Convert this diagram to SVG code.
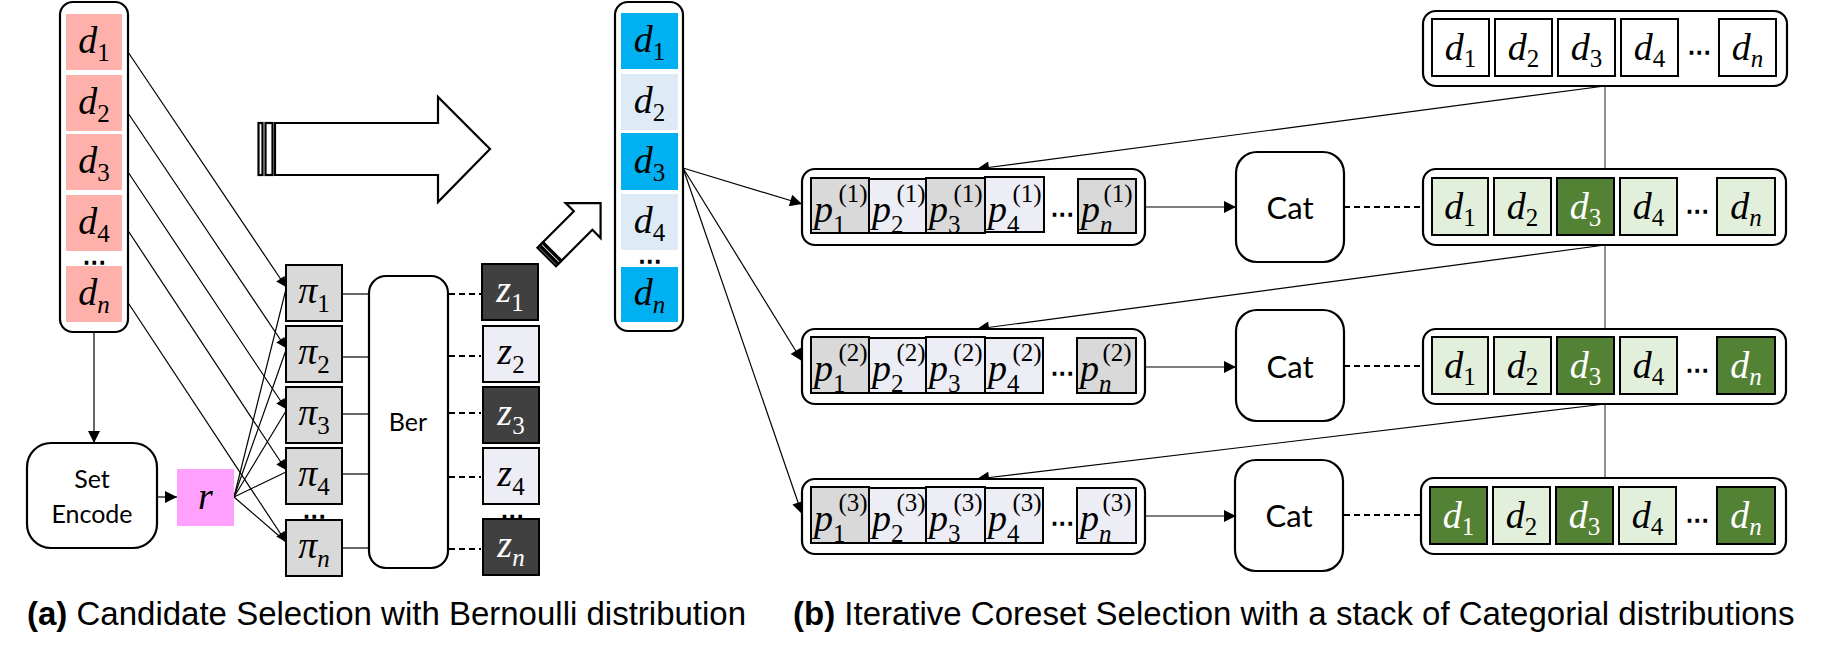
<svg xmlns="http://www.w3.org/2000/svg" width="1824" height="654" viewBox="0 0 1824 654">
<defs>
<style>
.col{fill:#fff;stroke:#000;stroke-width:2.2}
.bx{stroke:#000;stroke-width:2}
.sal{fill:#FDB1AA}
.blu{fill:#00B0F0}
.lbl{fill:#DEEBF7}
.gry{fill:#D9D9D9}
.lgt{fill:#EDEEF5}
.drk{fill:#404040}
.wht{fill:#fff}
.lgr{fill:#E2EFDA}
.dgr{fill:#548235}
.m{font-family:"Liberation Serif","DejaVu Serif",serif;font-style:italic;font-size:38px;fill:#000}
.mw{fill:#fff}
.s{font-style:normal;font-size:25px}
.si{font-style:italic;font-size:25px}
.t{font-family:Lato,"Open Sans","Liberation Sans",sans-serif;fill:#000}
.dots{font-family:"Liberation Sans",Arial,sans-serif;font-weight:bold;font-size:16px;letter-spacing:3.4px;fill:#000;stroke:#000;stroke-width:1.3}
.cap{font-family:"Liberation Sans",Arial,sans-serif;font-size:33px;fill:#000}
.ln{stroke:#000;stroke-width:1.2;fill:none}
.dash{stroke:#000;stroke-width:2;stroke-dasharray:6 4;fill:none}
.big{fill:#fff;stroke:#000;stroke-width:2.2;stroke-linejoin:miter}
</style>
<marker id="ah" viewBox="0 0 10 10" refX="10" refY="5" markerWidth="11" markerHeight="10" markerUnits="userSpaceOnUse" orient="auto"><path d="M0,0 L10,5 L0,10 z" fill="#000"/></marker>
<marker id="ah2" viewBox="0 0 10 10" refX="10" refY="5" markerWidth="13" markerHeight="12" markerUnits="userSpaceOnUse" orient="auto"><path d="M0,0 L10,5 L0,10 z" fill="#000"/></marker>
</defs>

<!-- connectors -->
<g id="connectors">
  <line class="ln" x1="128" y1="52" x2="286" y2="287" marker-end="url(#ah)"/>
  <line class="ln" x1="128" y1="113" x2="286" y2="348" marker-end="url(#ah)"/>
  <line class="ln" x1="128" y1="172" x2="286" y2="409" marker-end="url(#ah)"/>
  <line class="ln" x1="123" y1="223" x2="286" y2="470" marker-end="url(#ah)"/>
  <line class="ln" x1="123" y1="295" x2="286" y2="542" marker-end="url(#ah)"/>
  <line class="ln" x1="234" y1="497" x2="286" y2="289"/>
  <line class="ln" x1="234" y1="497" x2="286" y2="350"/>
  <line class="ln" x1="234" y1="497" x2="286" y2="411"/>
  <line class="ln" x1="234" y1="497" x2="286" y2="472"/>
  <line class="ln" x1="234" y1="497" x2="286" y2="542"/>
  <line class="ln" x1="94" y1="332" x2="94" y2="443" marker-end="url(#ah2)"/>
  <line class="ln" x1="157" y1="497" x2="177" y2="497" marker-end="url(#ah2)"/>
  <line class="ln" x1="342" y1="294" x2="369" y2="294"/>
  <line class="ln" x1="342" y1="357" x2="369" y2="357"/>
  <line class="ln" x1="342" y1="414" x2="369" y2="414"/>
  <line class="ln" x1="342" y1="474" x2="369" y2="474"/>
  <line class="ln" x1="342" y1="548" x2="369" y2="548"/>
  <line class="dash" x1="449" y1="294" x2="481" y2="294"/>
  <line class="dash" x1="449" y1="356" x2="481" y2="356"/>
  <line class="dash" x1="449" y1="413" x2="481" y2="413"/>
  <line class="dash" x1="449" y1="477" x2="481" y2="477"/>
  <line class="dash" x1="449" y1="549" x2="481" y2="549"/>
  <line class="ln" x1="683" y1="168" x2="802" y2="204" marker-end="url(#ah2)"/>
  <line class="ln" x1="683" y1="168" x2="802" y2="361" marker-end="url(#ah2)"/>
  <line class="ln" x1="683" y1="168" x2="802" y2="514" marker-end="url(#ah2)"/>
  <line x1="1605" y1="86" x2="1605" y2="478" stroke="#444" stroke-width="1.2"/>
  <line class="ln" x1="1605" y1="86" x2="977" y2="169" marker-end="url(#ah2)"/>
  <line class="ln" x1="1605" y1="245" x2="977" y2="329" marker-end="url(#ah2)"/>
  <line class="ln" x1="1605" y1="404" x2="977" y2="479" marker-end="url(#ah2)"/>
  <line class="ln" x1="1145" y1="207" x2="1236" y2="207" marker-end="url(#ah2)"/>
  <line class="ln" x1="1145" y1="367" x2="1236" y2="367" marker-end="url(#ah2)"/>
  <line class="ln" x1="1145" y1="516" x2="1236" y2="516" marker-end="url(#ah2)"/>
  <line class="dash" x1="1344" y1="207" x2="1423" y2="207"/>
  <line class="dash" x1="1344" y1="366" x2="1423" y2="366"/>
  <line class="dash" x1="1344" y1="515" x2="1423" y2="515"/>
</g>

<!-- big hollow arrows -->
<g id="big-arrow">
  <rect class="big" x="258.5" y="123" width="4" height="52" stroke-width="1.6"/>
  <rect class="big" x="265.5" y="123" width="7" height="52" stroke-width="1.6"/>
  <polygon class="big" points="275,123 438,123 438,97 490,149 438,202 438,175 275,175"/>
</g>
<g id="small-arrow" transform="translate(546.7,257) rotate(-45)">
  <rect class="big" x="0" y="-13.1" width="2.5" height="26.2" stroke-width="1.6"/>
  <rect class="big" x="3.8" y="-13.1" width="3" height="26.2" stroke-width="1.6"/>
  <polygon class="big" points="8,-13.1 51.5,-13.1 51.5,-24.7 76.2,0 51.5,24.7 51.5,13.1 8,13.1"/>
</g>

<!-- left column -->
<g id="input-set">
  <rect class="col" x="60" y="2" width="68" height="330" rx="13"/>
  <rect class="sal" x="66" y="14" width="56" height="56"/>
  <rect class="sal" x="66" y="75" width="56" height="56"/>
  <rect class="sal" x="66" y="134" width="56" height="56"/>
  <rect class="sal" x="66" y="195" width="56" height="56"/>
  <rect class="sal" x="66" y="266" width="56" height="56"/>
  <text class="m" x="94" y="53" text-anchor="middle">d<tspan class="s" dy="8">1</tspan></text>
  <text class="m" x="94" y="114" text-anchor="middle">d<tspan class="s" dy="8">2</tspan></text>
  <text class="m" x="94" y="173" text-anchor="middle">d<tspan class="s" dy="8">3</tspan></text>
  <text class="m" x="94" y="234" text-anchor="middle">d<tspan class="s" dy="8">4</tspan></text>
  <text class="dots" x="96" y="264" text-anchor="middle">...</text>
  <text class="m" x="94" y="305" text-anchor="middle">d<tspan class="si" dy="8">n</tspan></text>
</g>

<g id="set-encode">
  <rect class="col" x="27" y="443" width="130" height="105" rx="24"/>
  <text class="t" x="92" y="488" font-size="25" text-anchor="middle">Set</text>
  <text class="t" x="92" y="523" font-size="25" text-anchor="middle">Encode</text>
</g>

<g id="r">
  <rect x="177" y="469" width="57" height="57" fill="#FFA0FF"/>
  <text class="m" x="205.5" y="509" text-anchor="middle">r</text>
</g>

<g id="pi">
  <rect class="bx gry" x="286" y="265" width="56" height="56"/>
  <rect class="bx gry" x="286" y="326" width="56" height="56"/>
  <rect class="bx gry" x="286" y="387" width="56" height="56"/>
  <rect class="bx gry" x="286" y="448" width="56" height="56"/>
  <rect class="bx gry" x="286" y="520" width="56" height="56"/>
  <text class="m" x="314" y="303" text-anchor="middle">π<tspan class="s" dy="9">1</tspan></text>
  <text class="m" x="314" y="364" text-anchor="middle">π<tspan class="s" dy="9">2</tspan></text>
  <text class="m" x="314" y="425" text-anchor="middle">π<tspan class="s" dy="9">3</tspan></text>
  <text class="m" x="314" y="486" text-anchor="middle">π<tspan class="s" dy="9">4</tspan></text>
  <text class="dots" x="316" y="518" text-anchor="middle">...</text>
  <text class="m" x="314" y="558" text-anchor="middle">π<tspan class="si" dy="9">n</tspan></text>
</g>

<g id="ber">
  <rect class="col" x="369" y="276" width="79" height="292" rx="17"/>
  <text class="t" x="408" y="431" font-size="25" text-anchor="middle">Ber</text>
</g>

<g id="z">
  <rect class="bx drk" x="482" y="264" width="56" height="56"/>
  <rect class="bx lgt" x="483" y="326" width="56" height="56"/>
  <rect class="bx drk" x="483" y="387" width="56" height="56"/>
  <rect class="bx lgt" x="483" y="448" width="56" height="56"/>
  <rect class="bx drk" x="483" y="519" width="56" height="56"/>
  <text class="m mw" x="510" y="302" text-anchor="middle">z<tspan class="s" dy="9">1</tspan></text>
  <text class="m" x="511" y="364" text-anchor="middle">z<tspan class="s" dy="9">2</tspan></text>
  <text class="m mw" x="511" y="425" text-anchor="middle">z<tspan class="s" dy="9">3</tspan></text>
  <text class="m" x="511" y="486" text-anchor="middle">z<tspan class="s" dy="9">4</tspan></text>
  <text class="dots" x="514" y="518" text-anchor="middle">...</text>
  <text class="m mw" x="511" y="557" text-anchor="middle">z<tspan class="si" dy="9">n</tspan></text>
</g>

<!-- middle column -->
<g id="selected-set">
  <rect class="col" x="615" y="2" width="68" height="329" rx="13"/>
  <rect class="blu" x="621" y="13" width="57" height="56"/>
  <rect class="lbl" x="621" y="74" width="57" height="56"/>
  <rect class="blu" x="621" y="133" width="57" height="57"/>
  <rect class="lbl" x="621" y="194" width="57" height="56"/>
  <rect class="blu" x="621" y="267" width="57" height="55"/>
  <text class="m" x="649.5" y="52" text-anchor="middle">d<tspan class="s" dy="8">1</tspan></text>
  <text class="m" x="649.5" y="113" text-anchor="middle">d<tspan class="s" dy="8">2</tspan></text>
  <text class="m" x="649.5" y="173" text-anchor="middle">d<tspan class="s" dy="8">3</tspan></text>
  <text class="m" x="649.5" y="233" text-anchor="middle">d<tspan class="s" dy="8">4</tspan></text>
  <text class="dots" x="651.5" y="263" text-anchor="middle">...</text>
  <text class="m" x="649.5" y="305" text-anchor="middle">d<tspan class="si" dy="8">n</tspan></text>
</g>

<!-- p rows -->
<g id="p-row-1">
  <rect class="col" x="802" y="169" width="343" height="76" rx="13"/>
  <rect class="bx gry" x="811" y="178" width="58" height="55"/>
  <rect class="bx lgt" x="869" y="179" width="57" height="54"/>
  <rect class="bx gry" x="926" y="178" width="59" height="55"/>
  <rect class="bx lgt" x="985" y="177" width="59" height="55"/>
  <rect class="bx gry" x="1078" y="179" width="58" height="54"/>
  <text class="m" x="814" y="222">p<tspan class="s" dy="11">1</tspan><tspan class="s" dx="-7" dy="-31">(1)</tspan></text>
  <text class="m" x="872" y="222">p<tspan class="s" dy="11">2</tspan><tspan class="s" dx="-7" dy="-31">(1)</tspan></text>
  <text class="m" x="929" y="222">p<tspan class="s" dy="11">3</tspan><tspan class="s" dx="-7" dy="-31">(1)</tspan></text>
  <text class="m" x="988" y="222">p<tspan class="s" dy="11">4</tspan><tspan class="s" dx="-7" dy="-31">(1)</tspan></text>
  <text class="dots" x="1064" y="216" text-anchor="middle">...</text>
  <text class="m" x="1081" y="222">p<tspan class="si" dy="11">n</tspan><tspan class="s" dx="-9" dy="-31">(1)</tspan></text>
</g>
<g id="p-row-2">
  <rect class="col" x="802" y="329" width="343" height="75" rx="13"/>
  <rect class="bx gry" x="811" y="337" width="58" height="56"/>
  <rect class="bx lgt" x="869" y="338" width="57" height="55"/>
  <rect class="bx lgt" x="926" y="337" width="59" height="56"/>
  <rect class="bx lgt" x="985" y="338" width="58" height="55"/>
  <rect class="bx gry" x="1077" y="338" width="59" height="55"/>
  <text class="m" x="814" y="381">p<tspan class="s" dy="11">1</tspan><tspan class="s" dx="-7" dy="-31">(2)</tspan></text>
  <text class="m" x="872" y="381">p<tspan class="s" dy="11">2</tspan><tspan class="s" dx="-7" dy="-31">(2)</tspan></text>
  <text class="m" x="929" y="381">p<tspan class="s" dy="11">3</tspan><tspan class="s" dx="-7" dy="-31">(2)</tspan></text>
  <text class="m" x="988" y="381">p<tspan class="s" dy="11">4</tspan><tspan class="s" dx="-7" dy="-31">(2)</tspan></text>
  <text class="dots" x="1064" y="375" text-anchor="middle">...</text>
  <text class="m" x="1080" y="381">p<tspan class="si" dy="11">n</tspan><tspan class="s" dx="-9" dy="-31">(2)</tspan></text>
</g>
<g id="p-row-3">
  <rect class="col" x="802" y="479" width="343" height="75" rx="13"/>
  <rect class="bx gry" x="811" y="487" width="58" height="56"/>
  <rect class="bx lgt" x="869" y="488" width="57" height="55"/>
  <rect class="bx lgt" x="926" y="487" width="59" height="56"/>
  <rect class="bx lgt" x="985" y="488" width="58" height="55"/>
  <rect class="bx lgt" x="1077" y="488" width="59" height="55"/>
  <text class="m" x="814" y="531">p<tspan class="s" dy="11">1</tspan><tspan class="s" dx="-7" dy="-31">(3)</tspan></text>
  <text class="m" x="872" y="531">p<tspan class="s" dy="11">2</tspan><tspan class="s" dx="-7" dy="-31">(3)</tspan></text>
  <text class="m" x="929" y="531">p<tspan class="s" dy="11">3</tspan><tspan class="s" dx="-7" dy="-31">(3)</tspan></text>
  <text class="m" x="988" y="531">p<tspan class="s" dy="11">4</tspan><tspan class="s" dx="-7" dy="-31">(3)</tspan></text>
  <text class="dots" x="1064" y="525" text-anchor="middle">...</text>
  <text class="m" x="1080" y="531">p<tspan class="si" dy="11">n</tspan><tspan class="s" dx="-9" dy="-31">(3)</tspan></text>
</g>

<!-- Cat nodes -->
<g id="cat-1">
  <rect class="col" x="1236" y="152" width="108" height="110" rx="21"/>
  <text class="t" x="1290" y="219" font-size="31" text-anchor="middle">Cat</text>
</g>
<g id="cat-2">
  <rect class="col" x="1236" y="310" width="108" height="111" rx="21"/>
  <text class="t" x="1290" y="378" font-size="31" text-anchor="middle">Cat</text>
</g>
<g id="cat-3">
  <rect class="col" x="1235" y="460" width="108" height="111" rx="21"/>
  <text class="t" x="1289" y="527" font-size="31" text-anchor="middle">Cat</text>
</g>

<!-- right rows -->
<g id="full-set">
  <rect class="col" x="1423" y="11" width="364" height="75" rx="13"/>
  <rect class="bx wht" x="1432" y="19" width="57" height="57"/>
  <rect class="bx wht" x="1495" y="19" width="57" height="57"/>
  <rect class="bx wht" x="1558" y="19" width="57" height="57"/>
  <rect class="bx wht" x="1621" y="19" width="57" height="57"/>
  <rect class="bx wht" x="1719" y="19" width="57" height="57"/>
  <text class="m" x="1460.5" y="60" text-anchor="middle">d<tspan class="s" dy="7">1</tspan></text>
  <text class="m" x="1523.5" y="60" text-anchor="middle">d<tspan class="s" dy="7">2</tspan></text>
  <text class="m" x="1586.5" y="60" text-anchor="middle">d<tspan class="s" dy="7">3</tspan></text>
  <text class="m" x="1649.5" y="60" text-anchor="middle">d<tspan class="s" dy="7">4</tspan></text>
  <text class="dots" x="1701" y="54" text-anchor="middle">...</text>
  <text class="m" x="1747.5" y="60" text-anchor="middle">d<tspan class="si" dy="7">n</tspan></text>
</g>
<g id="coreset-1">
  <rect class="col" x="1423" y="169" width="363" height="76" rx="13"/>
  <rect class="bx lgr" x="1432" y="178" width="56" height="57"/>
  <rect class="bx lgr" x="1494" y="178" width="57" height="57"/>
  <rect class="bx dgr" x="1557" y="178" width="57" height="57"/>
  <rect class="bx lgr" x="1620" y="178" width="57" height="57"/>
  <rect class="bx lgr" x="1717" y="178" width="58" height="57"/>
  <text class="m" x="1460" y="219" text-anchor="middle">d<tspan class="s" dy="7">1</tspan></text>
  <text class="m" x="1522.5" y="219" text-anchor="middle">d<tspan class="s" dy="7">2</tspan></text>
  <text class="m mw" x="1585.5" y="219" text-anchor="middle">d<tspan class="s" dy="7">3</tspan></text>
  <text class="m" x="1648.5" y="219" text-anchor="middle">d<tspan class="s" dy="7">4</tspan></text>
  <text class="dots" x="1699" y="213" text-anchor="middle">...</text>
  <text class="m" x="1746" y="219" text-anchor="middle">d<tspan class="si" dy="7">n</tspan></text>
</g>
<g id="coreset-2">
  <rect class="col" x="1423" y="329" width="363" height="75" rx="13"/>
  <rect class="bx lgr" x="1432" y="337" width="56" height="57"/>
  <rect class="bx lgr" x="1494" y="337" width="57" height="57"/>
  <rect class="bx dgr" x="1557" y="337" width="57" height="57"/>
  <rect class="bx lgr" x="1620" y="337" width="57" height="57"/>
  <rect class="bx dgr" x="1717" y="337" width="58" height="57"/>
  <text class="m" x="1460" y="378" text-anchor="middle">d<tspan class="s" dy="7">1</tspan></text>
  <text class="m" x="1522.5" y="378" text-anchor="middle">d<tspan class="s" dy="7">2</tspan></text>
  <text class="m mw" x="1585.5" y="378" text-anchor="middle">d<tspan class="s" dy="7">3</tspan></text>
  <text class="m" x="1648.5" y="378" text-anchor="middle">d<tspan class="s" dy="7">4</tspan></text>
  <text class="dots" x="1699" y="372" text-anchor="middle">...</text>
  <text class="m mw" x="1746" y="378" text-anchor="middle">d<tspan class="si" dy="7">n</tspan></text>
</g>
<g id="coreset-3">
  <rect class="col" x="1421" y="478" width="365" height="76" rx="13"/>
  <rect class="bx dgr" x="1430" y="487" width="57" height="57"/>
  <rect class="bx lgr" x="1493" y="487" width="57" height="57"/>
  <rect class="bx dgr" x="1556" y="487" width="57" height="57"/>
  <rect class="bx lgr" x="1619" y="487" width="57" height="57"/>
  <rect class="bx dgr" x="1717" y="487" width="58" height="57"/>
  <text class="m mw" x="1458.5" y="528" text-anchor="middle">d<tspan class="s" dy="7">1</tspan></text>
  <text class="m" x="1521.5" y="528" text-anchor="middle">d<tspan class="s" dy="7">2</tspan></text>
  <text class="m mw" x="1584.5" y="528" text-anchor="middle">d<tspan class="s" dy="7">3</tspan></text>
  <text class="m" x="1647.5" y="528" text-anchor="middle">d<tspan class="s" dy="7">4</tspan></text>
  <text class="dots" x="1699" y="522" text-anchor="middle">...</text>
  <text class="m mw" x="1746" y="528" text-anchor="middle">d<tspan class="si" dy="7">n</tspan></text>
</g>

<!-- captions -->
<g id="captions">
  <text class="cap" x="27" y="625"><tspan font-weight="bold">(a)</tspan> Candidate Selection with Bernoulli distribution</text>
  <text class="cap" x="793" y="625"><tspan font-weight="bold">(b)</tspan> Iterative Coreset Selection with a stack of Categorial distributions</text>
</g>
</svg>
